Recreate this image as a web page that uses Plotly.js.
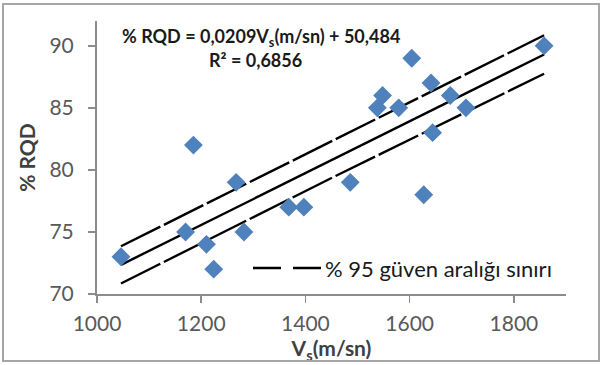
<!DOCTYPE html>
<html>
<head>
<meta charset="utf-8">
<script src="https://cdn.plot.ly/plotly-3.0.1.min.js"></script>
<style>
html,body{margin:0;padding:0;background:#fff;}
#wrap{position:relative;width:602px;height:365px;}
#chart{width:602px;height:365px;}
#frame{position:absolute;left:2px;top:3px;width:594px;height:355px;border:2px solid #a6a6a6;pointer-events:none;}
</style>
</head>
<body>
<div id="wrap"><div id="chart"></div><div id="frame"></div></div>
<script>
// Measured data (Vs in m/sn, RQD in %)
const vs  = [1046,1170,1185,1210,1224,1267,1282,1368,1397,1486,1538,1548,1579,1604,1627,1641,1644,1678,1708,1858];
const rqd = [73,75,82,74,72,79,75,77,77,79,85,86,85,89,78,87,83,86,85,90];

// Regression line end points
const fitX = [1046,1858];
const fitY = [72.35,89.3];

// 95% confidence band limits
const bandX = [1046,1450,1858];
const bandUpper = [73.85,82.3,90.85];
const bandLower = [70.85,79.35,87.75];

const xTicks = [1000,1200,1400,1600,1800];
const yTicks = [70,75,80,85,90];

const equationText = '% RQD = 0,0209V<sub>s</sub>(m/sn) + 50,484';
const r2Text = 'R² = 0,6856';
const legendText = '% 95 güven aralığı sınırı';

const FONT = 'Lato, "Open Sans", sans-serif';
const dashStyle = '44px,4px';

const traces = [
  {x: bandX, y: bandUpper, mode:'lines', line:{color:'#000', width:2.4, dash:dashStyle}, showlegend:false, hoverinfo:'skip'},
  {x: bandX, y: bandLower, mode:'lines', line:{color:'#000', width:2.4, dash:dashStyle}, showlegend:false, hoverinfo:'skip'},
  {x: fitX, y: fitY, mode:'lines', line:{color:'#000', width:2.4}, showlegend:false, hoverinfo:'skip'},
  {x: vs, y: rqd, mode:'markers', marker:{symbol:'diamond', size:14.5, color:'#4F81BD', line:{width:0}}, showlegend:false}
];

// plot area in pixels: x 97..566, y 21..294
const L=97, R=566, T=21, B=294;
const px = p => (p-L)/(R-L);
const py = p => (B-p)/(B-T);

const layout = {
  width:602, height:365,
  margin:{l:L, r:602-R, t:T, b:365-B, pad:0},
  paper_bgcolor:'#fff', plot_bgcolor:'#fff',
  font:{family:FONT, color:'#595959', size:21},
  showlegend:false,
  xaxis:{
    range:[1000,1900], tickvals:xTicks, ticktext:xTicks.map(String),
    showgrid:false, zeroline:false, showline:true, linecolor:'#8c8c8c', linewidth:2,
    ticks:'outside', ticklen:7, tickwidth:1.5, tickcolor:'#8c8c8c', ticklabelstandoff:3,
    tickfont:{family:FONT, size:21, color:'#595959'},
    title:{text:'V<sub>s</sub>(m/sn)', font:{family:FONT, size:21, color:'#404040', weight:'bold'}, standoff:3}
  },
  yaxis:{
    range:[70,92], tickvals:yTicks, ticktext:yTicks.map(String),
    showgrid:false, zeroline:false, showline:true, linecolor:'#8c8c8c', linewidth:2,
    ticks:'outside', ticklen:7, tickwidth:1.5, tickcolor:'#8c8c8c', ticklabelstandoff:10,
    tickfont:{family:FONT, size:21, color:'#595959'},
    title:{text:'% RQD', font:{family:FONT, size:21, color:'#404040', weight:'bold'}, standoff:8}
  },
  shapes:[
    {type:'line', xref:'paper', yref:'paper', x0:px(253), x1:px(322), y0:py(268), y1:py(268),
     line:{color:'#000', width:2.6, dash:'28px,12px'}}
  ],
  annotations:[
    {xref:'paper', yref:'paper', x:px(261), y:py(37), text:equationText, showarrow:false,
     xanchor:'center', yanchor:'middle', font:{family:FONT, size:18, color:'#1a1a1a', weight:'bold'}},
    {xref:'paper', yref:'paper', x:px(255), y:py(60), text:r2Text, showarrow:false,
     xanchor:'center', yanchor:'middle', font:{family:FONT, size:18, color:'#1a1a1a', weight:'bold'}},
    {xref:'paper', yref:'paper', x:px(323), y:py(268), text:legendText, showarrow:false,
     xanchor:'left', yanchor:'middle', font:{family:FONT, size:22, color:'#1a1a1a'}}
  ]
};

Plotly.newPlot('chart', traces, layout, {staticPlot:true, displayModeBar:false});
</script>
</body>
</html>
